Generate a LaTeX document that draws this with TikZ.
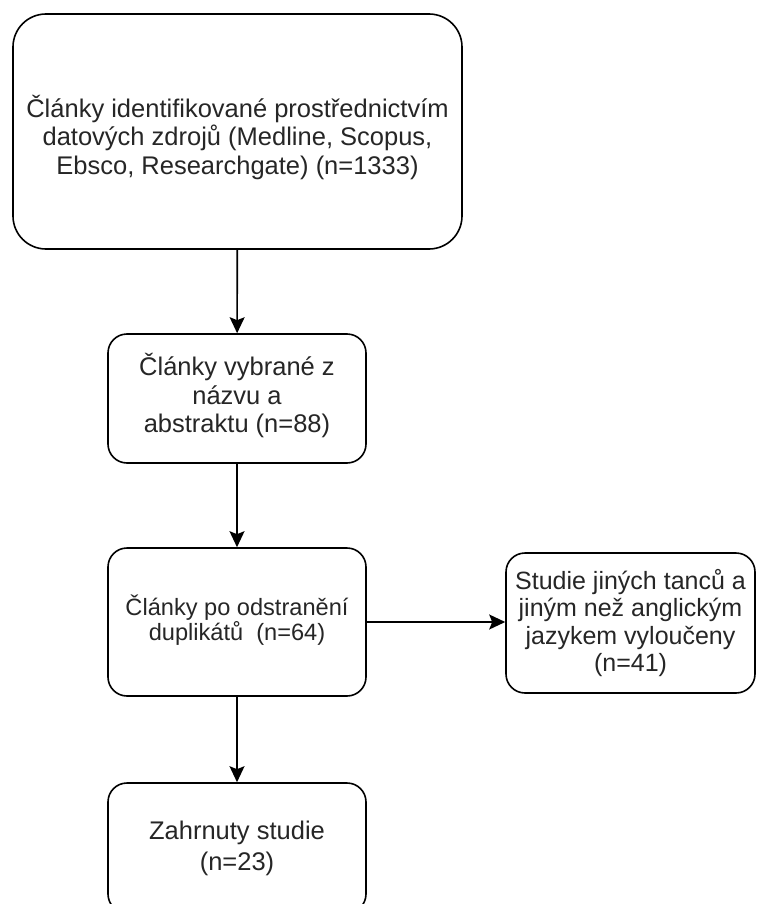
\documentclass[tikz,border=0pt]{standalone}
\usepackage{fontspec}
\setmainfont{Liberation Sans}
\usetikzlibrary{arrows.meta}
\begin{document}
\begin{tikzpicture}[x=1pt,y=-1pt,
  box/.style={draw=black,line width=1.6pt,fill=white,inner sep=0pt},
  lbl/.style={align=center,inner sep=0pt,font=\fontsize{25.5}{28.5}\selectfont,text=black!85},
  arr/.style={line width=1.6pt,-{Stealth[length=16pt,width=15pt,inset=3pt]}}]
\useasboundingbox (0,0) rectangle (757,904);
\begin{scope}
\clip (0,0) rectangle (757,904);
\node[box,rounded corners=33pt,minimum width=449pt,minimum height=235pt] (n1) at (237.5,131.5) {};
\node[box,rounded corners=19pt,minimum width=258pt,minimum height=129pt] (n2) at (237,398.5) {};
\node[box,rounded corners=19pt,minimum width=258pt,minimum height=148pt] (n3) at (237,622) {};
\node[box,rounded corners=19pt,minimum width=249pt,minimum height=140pt] (n4) at (630.5,623) {};
\node[box,rounded corners=19pt,minimum width=258pt,minimum height=130pt] (n5) at (237,848) {};
\node[lbl] (t1) at ([yshift=-6pt]n1.center)
  {Články identifikované prostřednictvím\\datových zdrojů (Medline, Scopus,\\Ebsco, Researchgate) (n=1333)};
\node[lbl] (t2) at ([yshift=3pt]n2.center) {Články vybrané z\\názvu a\\abstraktu (n=88)};
\node[lbl,font=\fontsize{23.6}{25.5}\selectfont] (t3) at ([yshift=2pt]n3.center) {Články po odstranění\\duplikátů\ \ (n=64)};
\node[lbl,font=\fontsize{25}{27.5}\selectfont] (t4) at (n4.center) {Studie jiných tanců a\\jiným než anglickým\\jazykem vyloučeny\\(n=41)};
\node[lbl,font=\fontsize{25.5}{31}\selectfont] (t5) at (n5.center) {Zahrnuty studie\\(n=23)};
\draw[arr] (n1) -- (n2);
\draw[arr] (n2) -- (n3);
\draw[arr] (n3) -- (n5);
\draw[arr] (n3.east) -- (n3.east -| n4.west);
\end{scope}
\end{tikzpicture}
\end{document}
